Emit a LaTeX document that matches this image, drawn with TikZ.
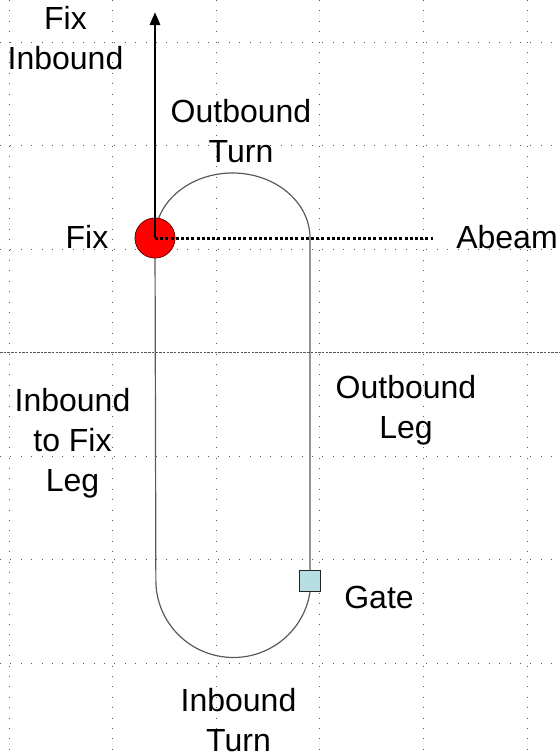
\documentclass[tikz,border=0pt]{standalone}
\usepackage{fontspec}
\setmainfont{Liberation Sans}
\usetikzlibrary{arrows.meta}
\definecolor{fixred}{RGB}{255,0,0}
\definecolor{gatecyan}{RGB}{183,222,226}
\definecolor{trackgray}{RGB}{90,90,90}
\begin{document}
\begin{tikzpicture}[x=1pt,y=-1pt,
  gridline/.style={black!65,line width=1pt,dash pattern=on 1pt off 9.4pt},
  midline/.style={black!65,line width=1pt,dash pattern=on 2.5pt off 1.2pt},
  track/.style={trackgray,line width=1.2pt},
  lbl/.style={font=\fontsize{32}{40}\selectfont,align=center,inner sep=0pt},
  fixpt/.style={circle,fill=fixred,draw=red!40!black,line width=0.6pt,minimum size=40pt,inner sep=0pt},
  gatebox/.style={rectangle,fill=gatecyan,draw=black!85,line width=1pt,minimum size=21pt,inner sep=0pt}]
\useasboundingbox (0,0) rectangle (560,756);
% background grid
\foreach \gx in {9,112.6,216.2,319.8,423.4,527}
  \draw[gridline] (\gx,0) -- (\gx,756);
\foreach \gy in {42,145.5,249,456,559.5,663}
  \draw[gridline] (0,\gy) -- (560,\gy);
\draw[midline] (0,352.5) -- (560,352.5);
% fix and gate
\node[fixpt] (fix) at (155,238) {};
\node[gatebox] (gate) at (310,581) {};
\coordinate (arrowtip) at (155,12);
\coordinate (abeamend) at (433,238);
% holding pattern track
\draw[track] (fix.center) arc[start angle=180,end angle=360,x radius=77.5,y radius=65]
  -- (gate.north);
\draw[track] (gate.south) arc[start angle=8.6,end angle=180,x radius=77.5,y radius=77]
  -- (fix.center);
\node[fixpt] at (fix) {};
% inbound course and abeam line
\draw[line width=2.8pt,-{Triangle[length=13pt,width=10pt]}] (fix.center) -- (arrowtip);
\draw[line width=3pt,dash pattern=on 3pt off 2.2pt] (fix.center) -- (abeamend);
% labels
\node[lbl] (lfixin) at (65.5,38) {Fix\\Inbound};
\node[lbl] (lout) at (241,131) {Outbound\\Turn};
\node[lbl] (lfix) at (87,237) {Fix};
\node[lbl] (labeam) at (507,237) {Abeam};
\node[lbl] (linleg) at (72.5,443) {Inbound\\to Fix\\Leg};
\node[lbl] (loutleg) at (406,410) {Outbound\\Leg};
\node[lbl] (lgate) at (379,597) {Gate};
\node[lbl] (linturn) at (238.5,720) {Inbound\\Turn};
\end{tikzpicture}
\end{document}
